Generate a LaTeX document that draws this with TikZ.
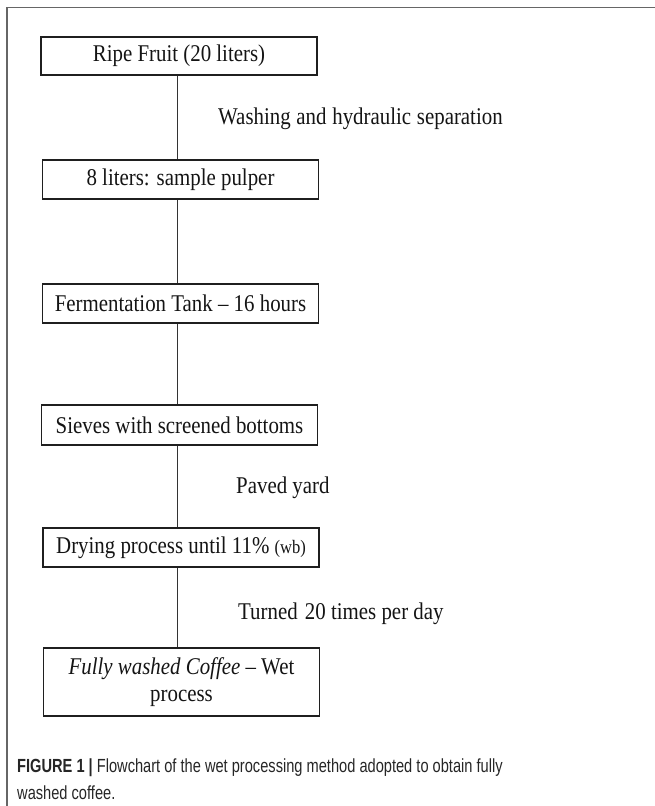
\documentclass[tikz,border=0pt]{standalone}
\usepackage{fontspec}
\setmainfont{Liberation Serif}[FakeStretch=0.87]
\newfontfamily\capfont{Liberation Sans}[FakeStretch=0.77]
\begin{document}
\begin{tikzpicture}[x=1pt,y=-1pt,
  stepbox/.style={draw=black!88, line width=1.5pt, minimum width=276pt, inner sep=0pt,
    font=\fontsize{24}{27}\selectfont, text=black!92, align=center},
  conn/.style={draw=black!80, line width=1pt},
  lbl/.style={anchor=base west, inner sep=0pt, font=\fontsize{24}{27}\selectfont, text=black!92},
  captext/.style={anchor=base west, inner sep=0pt, font=\capfont\fontsize{19}{21}\selectfont, text=black!85}]
\useasboundingbox (0,0) rectangle (655,806);
% frame
\draw[black!60, line width=1.5pt] (655,7.5) -- (7,7.5) -- (7,806);
\coordinate (spine) at (177.5,0);
\node[stepbox, minimum height=38pt] (b1) at (179,56) {Ripe Fruit (20 liters)};
\node[stepbox, minimum height=39pt] (b2) at (180.5,179.5) {8 liters: sample pulper};
\node[stepbox, minimum height=39pt] (b3) at (180.5,303.5) {Fermentation Tank -- 16 hours};
\node[stepbox, minimum height=40pt] (b4) at (179.5,425) {Sieves with screened bottoms};
\node[stepbox, minimum height=39pt] (b5) at (181,547.5) {Drying process until 11\% {\fontsize{19}{20}\selectfont(wb)}};
\node[stepbox, minimum height=68pt] (b6) at (181.5,682) {\textit{Fully washed Coffee} -- Wet\\process};
\draw[conn] (b1.south -| spine) -- (b2.north -| spine);
\draw[conn] (b2.south -| spine) -- (b3.north -| spine);
\draw[conn] (b3.south -| spine) -- (b4.north -| spine);
\draw[conn] (b4.south -| spine) -- (b5.north -| spine);
\draw[conn] (b5.south -| spine) -- (b6.north -| spine);
\node[lbl] (l1) at (218,124) {Washing\hspace{0.5pt} and\hspace{0.5pt} hydraulic\hspace{0.5pt} separation};
\node[lbl] (l2) at (236,493) {Paved yard};
\node[lbl] (l3) at (238,619) {Turned\hspace{2pt} 20 times per day};
\node[captext] (c1) at (17,772.5) {\textbf{FIGURE 1 |} Flowchart of the wet processing method adopted to obtain fully};
\node[captext] (c2) at (17,799) {washed coffee.};
\end{tikzpicture}
\end{document}
